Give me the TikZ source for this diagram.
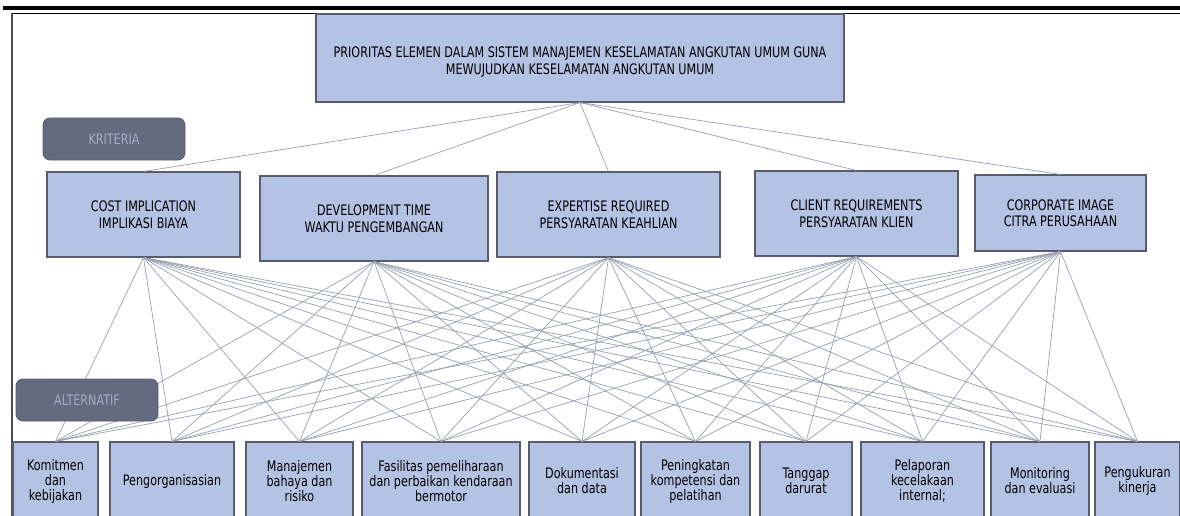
\documentclass[tikz,border=0pt]{standalone}
\usepackage{fontspec}
\setmainfont{DejaVu Sans}[FakeStretch=0.77]
\usetikzlibrary{positioning}
\definecolor{boxfill}{RGB}{180,194,228}
\definecolor{boxdraw}{RGB}{88,92,108}
\definecolor{linkgray}{RGB}{152,158,176}
\definecolor{badgefill}{RGB}{99,107,128}
\definecolor{badgetext}{RGB}{162,172,194}

\begin{document}
\begin{tikzpicture}[x=1pt,y=-1pt,
	box/.style={draw=boxdraw,fill=boxfill,line width=1.1pt,align=center,inner sep=0pt,font=\fontsize{14.5}{16.5}\selectfont},
	alt/.style={box,minimum height=78pt,font=\fontsize{14.5}{15}\selectfont},
	badge/.style={draw=boxdraw,fill=badgefill,text=badgetext,rounded corners=7pt,line width=0.8pt,minimum width=142pt,minimum height=42pt,inner sep=0pt,font=\fontsize{14.5}{16}\selectfont},
	link/.style={draw=linkgray,line width=0.7pt}]
	\useasboundingbox (0,0) rectangle (1180,516);
	\clip (0,0) rectangle (1180,516);
	% frame
	\draw[line width=4pt] (3,8) -- (1180,8);
	\draw[line width=1.2pt] (12,13.5) -- (1180,13.5);
	\draw[line width=1.2pt,draw=black!70] (12,13.5) -- (12,516);
	% goal
	\node[box,minimum width=528pt,minimum height=88pt] (goal) at (580,58)
		{\rule{0pt}{19pt}PRIORITAS ELEMEN DALAM SISTEM MANAJEMEN KESELAMATAN ANGKUTAN UMUM GUNA\\MEWUJUDKAN KESELAMATAN ANGKUTAN UMUM};
	% kriteria
	\node[box,minimum width=193pt,minimum height=85pt] (k1) at (143.5,214.5) {COST IMPLICATION\\IMPLIKASI BIAYA};
	\node[box,minimum width=228pt,minimum height=85pt] (k2) at (374,218.5) {DEVELOPMENT TIME\\WAKTU PENGEMBANGAN};
	\node[box,minimum width=223pt,minimum height=85pt] (k3) at (608.5,214.5) {EXPERTISE REQUIRED\\PERSYARATAN KEAHLIAN};
	\node[box,minimum width=203pt,minimum height=85pt] (k4) at (856.5,213.5) {CLIENT REQUIREMENTS\\PERSYARATAN KLIEN};
	\node[box,minimum width=171pt,minimum height=76pt] (k5) at (1060.5,213) {CORPORATE IMAGE\\CITRA PERUSAHAAN};
	% alternatif
	\node[alt,minimum width=85pt] (a1) at (55.5,481) {Komitmen\\dan\\kebijakan};
	\node[alt,minimum width=124pt] (a2) at (172,481) {Pengorganisasian};
	\node[alt,minimum width=107pt] (a3) at (299.5,481) {Manajemen\\bahaya dan\\risiko};
	\node[alt,minimum width=158pt] (a4) at (441,481) {Fasilitas pemeliharaan\\dan perbaikan kendaraan\\bermotor};
	\node[alt,minimum width=106pt] (a5) at (582,481) {Dokumentasi\\dan data};
	\node[alt,minimum width=109pt] (a6) at (695.5,481) {Peningkatan\\kompetensi dan\\pelatihan};
	\node[alt,minimum width=92pt] (a7) at (806,481) {Tanggap\\darurat};
	\node[alt,minimum width=123pt] (a8) at (922.5,481) {Pelaporan\\kecelakaan\\internal;};
	\node[alt,minimum width=98pt] (a9) at (1040,481) {Monitoring\\dan evaluasi};
	\node[alt,minimum width=85pt] (a10) at (1137.5,481) {Pengukuran\\kinerja};
	% connectors
	\foreach \i in {1,...,5} {
		\draw[link] (goal.south) -- (k\i.north);
		\foreach \j in {1,...,10}
			\draw[link] (k\i.south) -- (a\j.north);
	}
	% labels
	\node[badge] (kriteria) at (114,139) {KRITERIA};
	\node[badge] (alternatif) at (87,400) {ALTERNATIF};
\end{tikzpicture}
\end{document}
